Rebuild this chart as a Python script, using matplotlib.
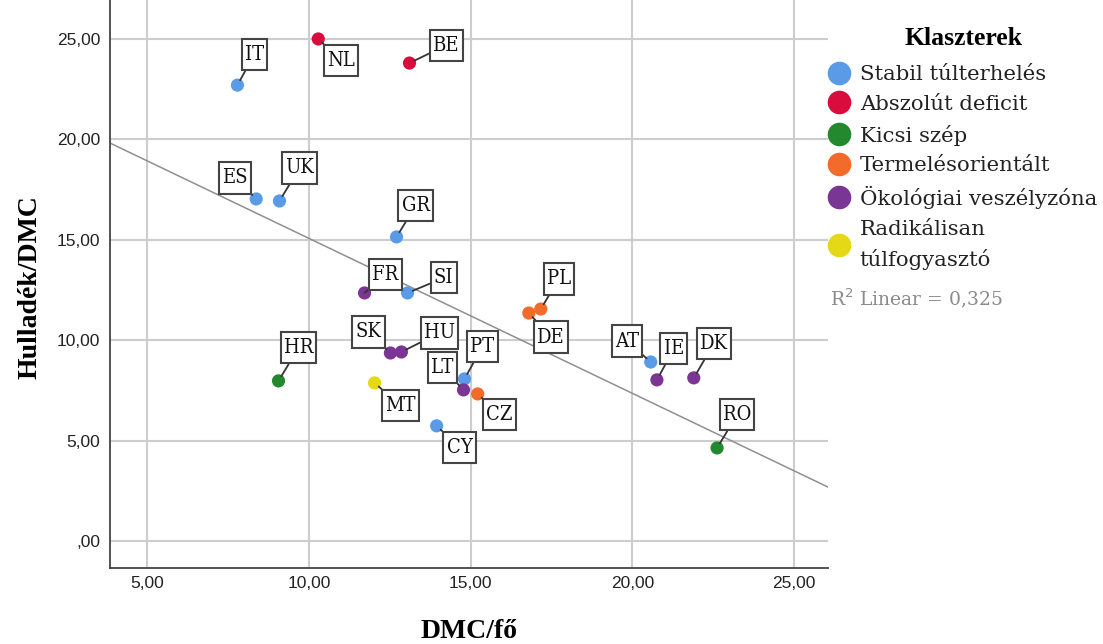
import numpy as np
import matplotlib
matplotlib.use("Agg")
import matplotlib.pyplot as plt
from matplotlib.lines import Line2D
from matplotlib.path import Path

# data
countries = ["IT", "NL", "BE", "ES", "UK", "GR", "FR", "SI", "PL", "DE", "SK",
             "HU", "HR", "MT", "PT", "LT", "CZ", "CY", "AT", "IE", "DK", "RO"]
dmc_per_capita = [7.79, 10.29, 13.11, 8.37, 9.09, 12.71, 11.72, 13.05, 17.17, 16.80, 12.52,
                  12.86, 9.06, 12.03, 14.81, 14.78, 15.22, 13.95, 20.57, 20.76, 21.90, 22.62]
waste_per_dmc = [22.70, 25.00, 23.80, 17.03, 16.93, 15.14, 12.35, 12.35, 11.55, 11.35, 9.36,
                 9.41, 7.97, 7.87, 8.07, 7.52, 7.32, 5.73, 8.91, 8.02, 8.12, 4.63]
cluster = [0, 1, 1, 0, 0, 0, 4, 0, 3, 3, 4,
           4, 2, 5, 0, 4, 3, 0, 0, 4, 4, 2]

cluster_names = ["Stabil túlterhelés", "Abszolút deficit", "Kicsi szép",
                 "Termelésorientált", "Ökológiai veszélyzóna", "Radikálisan\ntúlfogyasztó"]
cluster_colors = ["#5A9BE8", "#DA0B3D", "#24882E", "#F26B2B", "#7B3595", "#E5D814"]
r2_text = "R$^2$ Linear = 0,325"

# label offsets (pixels) from each point to the centre of its box
label_offsets = {
    "IT": (17, 31), "NL": (23, -22), "BE": (37, 18), "ES": (-21, 21), "UK": (20, 33),
    "GR": (19, 31), "FR": (21, 18), "SI": (36, 15), "PL": (18, 30), "DE": (22, -24),
    "SK": (-22, 21), "HU": (38, 19), "HR": (20, 33), "MT": (26, -23), "PT": (18, 32),
    "LT": (-21, 22), "CZ": (22, -21), "CY": (23, -22), "AT": (-24, 21), "IE": (17, 31),
    "DK": (20, 34), "RO": (20, 33),
}


def tall_box(x0, y0, width, height, mutation_size):
    # box with more padding top/bottom than left/right
    px = 0.16 * mutation_size
    py = 0.3 * mutation_size
    x1, y1 = x0 + width + px, y0 + height + py
    x0, y0 = x0 - px, y0 - py
    return Path([(x0, y0), (x1, y0), (x1, y1), (x0, y1), (x0, y0)], closed=True)


x = np.array(dmc_per_capita)
y = np.array(waste_per_dmc)

fig = plt.figure(figsize=(11.03, 6.44), dpi=100)
ax = fig.add_axes([110 / 1103, 1 - 568 / 644, (828 - 110) / 1103, 568 / 644])

xlim = (3.85, 26.05)
ax.set_xlim(*xlim)
ax.set_ylim(-1.35, 26.94)

ax.set_xticks([5, 10, 15, 20, 25])
ax.set_xticklabels(["5,00", "10,00", "15,00", "20,00", "25,00"])
ax.set_yticks([0, 5, 10, 15, 20, 25])
ax.set_yticklabels([",00", "5,00", "10,00", "15,00", "20,00", "25,00"])
for lab in ax.get_xticklabels() + ax.get_yticklabels():
    lab.set_family("Liberation Sans")
    lab.set_fontsize(12.5)
    lab.set_color("#222222")
ax.tick_params(axis="both", length=0)
ax.tick_params(axis="x", pad=6)
ax.tick_params(axis="y", pad=7)

ax.grid(True, color="#CDCDCD", linewidth=1.5)
ax.set_axisbelow(True)
for side in ["top", "right"]:
    ax.spines[side].set_visible(False)
for side in ["left", "bottom"]:
    ax.spines[side].set_color("#444444")
    ax.spines[side].set_linewidth(1.3)

# linear fit
slope, intercept = np.polyfit(x, y, 1)
xs = np.array(xlim)
ax.plot(xs, intercept + slope * xs, color="#8F8F8F", linewidth=1.1, zorder=2)

colors = [cluster_colors[c] for c in cluster]
ax.scatter(x, y, s=90, c=colors, edgecolors="none", zorder=4)

for name, xi, yi in zip(countries, x, y):
    dx, dy = label_offsets[name]
    ax.annotate(name, (xi, yi), xytext=(dx, dy), textcoords="offset pixels",
                ha="center", va="center", fontsize=14.5, family="DejaVu Serif",
                fontstretch="condensed", color="#111111", zorder=5,
                bbox=dict(boxstyle=tall_box, fc="white", ec="#444444", lw=1.5),
                arrowprops=dict(arrowstyle="-", color="#333333", lw=1.3,
                                shrinkA=0, shrinkB=4))

ax.set_xlabel("DMC/fő", fontsize=20, fontweight="bold", family="Liberation Serif")
ax.set_ylabel("Hulladék/DMC", fontsize=20, fontweight="bold", family="Liberation Serif")
ax.xaxis.set_label_coords(0.5, -64 / 568)
ax.yaxis.set_label_coords(-80 / 718, 1 - 287 / 568)
ax.xaxis.label.set_va("center")
ax.yaxis.label.set_va("center")

handles = [Line2D([], [], marker="o", linestyle="none", markersize=17,
                  markerfacecolor=col, markeredgecolor="none") for col in cluster_colors]
leg = ax.legend(handles, cluster_names, loc="upper left",
                bbox_to_anchor=(829 / 1103, 1 - 27 / 644), bbox_transform=fig.transFigure,
                frameon=False, title="Klaszterek",
                prop={"family": "DejaVu Serif", "size": 15.3},
                title_fontproperties={"family": "Liberation Serif", "weight": "bold", "size": 18.5},
                handletextpad=0.55, handlelength=0.9, labelspacing=0.5, borderaxespad=0,
                borderpad=0)
leg._legend_box.sep = 11
for t in leg.get_texts():
    t.set_color("#222222")
    t.set_linespacing(1.6)

fig.text(830 / 1103, 1 - 298 / 644, r2_text, fontsize=13.5, family="DejaVu Serif",
         color="#8A8A8A", va="center", ha="left")

fig.savefig("out.png", dpi=100)
